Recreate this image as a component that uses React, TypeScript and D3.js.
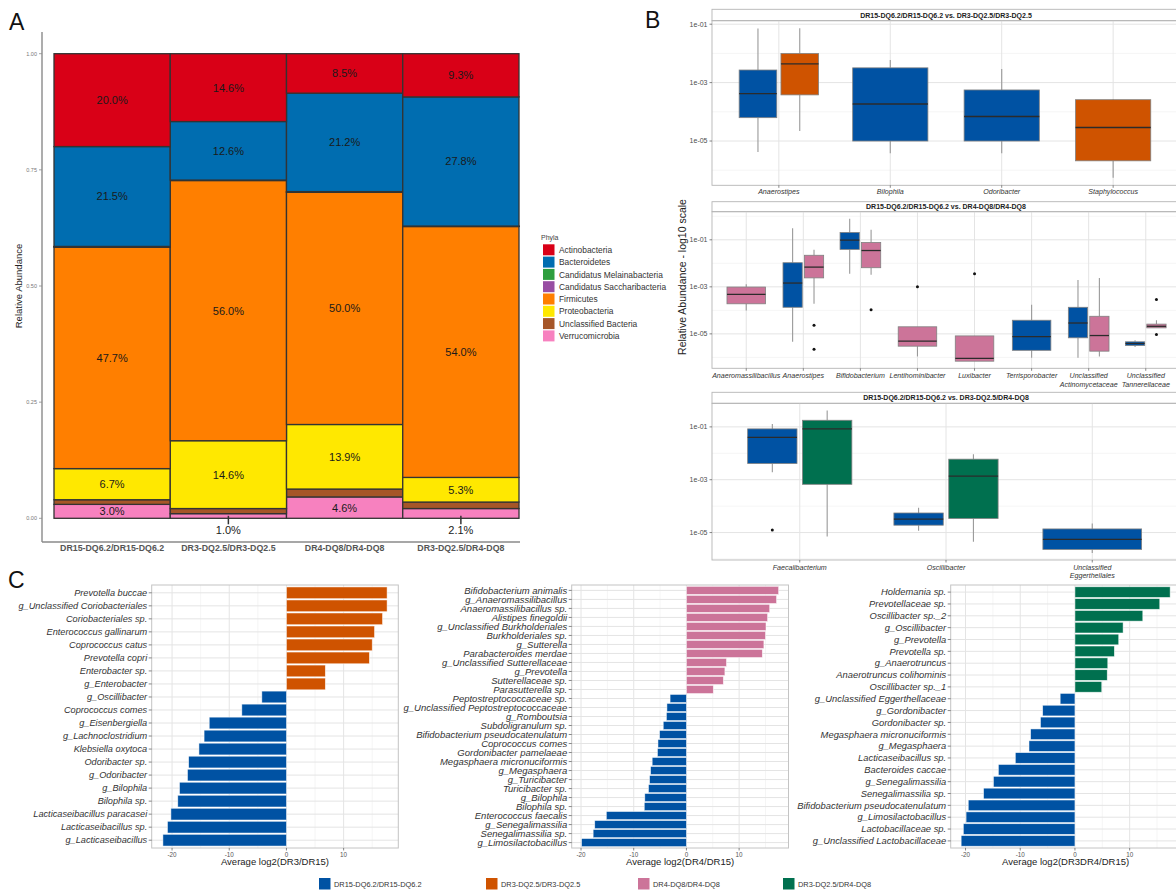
import React from 'react';
import * as d3 from 'd3';

const FONT = '"Liberation Sans", Arial, Helvetica, sans-serif';

// ---------- Panel A: phylum composition per genotype ----------
const genotypes = ['DR15-DQ6.2/DR15-DQ6.2', 'DR3-DQ2.5/DR3-DQ2.5', 'DR4-DQ8/DR4-DQ8', 'DR3-DQ2.5/DR4-DQ8'];
const phyla = [
  'Actinobacteria',
  'Bacteroidetes',
  'Candidatus Melainabacteria',
  'Candidatus Saccharibacteria',
  'Firmicutes',
  'Proteobacteria',
  'Unclassified Bacteria',
  'Verrucomicrobia',
];
const phylaColors = ['#D90017', '#006DB0', '#2E9E3E', '#984EA3', '#FF7F00', '#FFE800', '#A65628', '#F781BF'];
// percentages, one value per genotype
const actinobacteria = [20.0, 14.6, 8.5, 9.3];
const bacteroidetes = [21.5, 12.6, 21.2, 27.8];
const melainabacteria = [0.1, 0.05, 0.1, 0.05];
const saccharibacteria = [0.05, 0.05, 0.05, 0.05];
const firmicutes = [47.7, 56.0, 50.0, 54.0];
const proteobacteria = [6.7, 14.6, 13.9, 5.3];
const unclassifiedBacteria = [1.0, 1.1, 1.7, 1.4];
const verrucomicrobia = [3.0, 1.0, 4.6, 2.1];
const phylaValues = [
  actinobacteria, bacteroidetes, melainabacteria, saccharibacteria,
  firmicutes, proteobacteria, unclassifiedBacteria, verrucomicrobia,
];
const labelledPhyla = ['Actinobacteria', 'Bacteroidetes', 'Firmicutes', 'Proteobacteria', 'Verrucomicrobia'];

// ---------- Panel B: genus-level relative abundance boxplots ----------
const groupColors = ['#0052A3', '#CF5300', '#CC7499', '#00704F'];
const groupLabels = genotypes;

const dr3Genera = ['Anaerostipes', 'Bilophila', 'Odoribacter', 'Staphylococcus'];
const dr3Boxes = [
  { genus: 'Anaerostipes', group: 0, lo: 4.2e-6, q1: 6.3e-5, med: 4.2e-4, q3: 2.7e-3, hi: 7.1e-2, out: [] as number[] },
  { genus: 'Anaerostipes', group: 1, lo: 2.2e-5, q1: 3.8e-4, med: 4.4e-3, q3: 9.9e-3, hi: 7.3e-2, out: [] as number[] },
  { genus: 'Bilophila', group: 0, lo: 3.8e-6, q1: 1.0e-5, med: 1.85e-4, q3: 3.2e-3, hi: 6.0e-3, out: [] as number[] },
  { genus: 'Odoribacter', group: 0, lo: 3.8e-6, q1: 1.0e-5, med: 6.9e-5, q3: 5.6e-4, hi: 2.9e-3, out: [] as number[] },
  { genus: 'Staphylococcus', group: 1, lo: 5.5e-7, q1: 2.1e-6, med: 2.9e-5, q3: 2.6e-4, hi: 2.7e-4, out: [] as number[] },
];

const dr4Genera = [
  'Anaeromassilibacillus', 'Anaerostipes', 'Bifidobacterium', 'Lentihominibacter',
  'Luxibacter', 'Terrisporobacter', 'Unclassified Actinomycetaceae', 'Unclassified Tannerellaceae',
];
const dr4Boxes = [
  { genus: 'Anaeromassilibacillus', group: 2, lo: 9.8e-5, q1: 1.9e-4, med: 4.8e-4, q3: 9.8e-4, hi: 1.3e-3, out: [] as number[] },
  { genus: 'Anaerostipes', group: 0, lo: 4.6e-6, q1: 1.35e-4, med: 1.45e-3, q3: 1.06e-2, hi: 0.31, out: [] as number[] },
  { genus: 'Anaerostipes', group: 2, lo: 1.9e-4, q1: 2.4e-3, med: 6.9e-3, q3: 2.2e-2, hi: 3.8e-2, out: [2.3e-5, 2.2e-6] },
  { genus: 'Bifidobacterium', group: 0, lo: 3.6e-3, q1: 3.9e-2, med: 9.7e-2, q3: 0.205, hi: 0.78, out: [] as number[] },
  { genus: 'Bifidobacterium', group: 2, lo: 3.3e-3, q1: 6.5e-3, med: 3.5e-2, q3: 7.7e-2, hi: 0.265, out: [1.05e-4] },
  { genus: 'Lentihominibacter', group: 2, lo: 1.1e-6, q1: 3.0e-6, med: 4.9e-6, q3: 2.0e-5, hi: 2.0e-5, out: [1.0e-3] },
  { genus: 'Luxibacter', group: 2, lo: 6.9e-7, q1: 6.9e-7, med: 9.0e-7, q3: 8.2e-6, hi: 8.2e-6, out: [3.6e-3] },
  { genus: 'Terrisporobacter', group: 0, lo: 9.6e-7, q1: 2.0e-6, med: 7.7e-6, q3: 3.8e-5, hi: 1.75e-4, out: [] as number[] },
  { genus: 'Unclassified Actinomycetaceae', group: 0, lo: 9.6e-7, q1: 6.8e-6, med: 2.9e-5, q3: 1.35e-4, hi: 1.95e-3, out: [] as number[] },
  { genus: 'Unclassified Actinomycetaceae', group: 2, lo: 1.1e-6, q1: 1.84e-6, med: 8.5e-6, q3: 5.6e-5, hi: 2.4e-3, out: [] as number[] },
  { genus: 'Unclassified Tannerellaceae', group: 0, lo: 2.8e-6, q1: 3.2e-6, med: 3.9e-6, q3: 4.6e-6, hi: 5.4e-6, out: [] as number[] },
  { genus: 'Unclassified Tannerellaceae', group: 2, lo: 1.8e-5, q1: 1.8e-5, med: 2.1e-5, q3: 2.6e-5, hi: 3.8e-5, out: [2.9e-4, 9.3e-6] },
];

const dr34Genera = ['Faecalibacterium', 'Oscillibacter', 'Unclassified Eggerthellales'];
const dr34Boxes = [
  { genus: 'Faecalibacterium', group: 0, lo: 1.9e-3, q1: 4.1e-3, med: 4.0e-2, q3: 8.4e-2, hi: 0.13, out: [1.26e-5] },
  { genus: 'Faecalibacterium', group: 3, lo: 7.1e-6, q1: 6.7e-4, med: 8.4e-2, q3: 0.178, hi: 0.42, out: [] as number[] },
  { genus: 'Oscillibacter', group: 0, lo: 1.16e-5, q1: 1.9e-5, med: 3.2e-5, q3: 5.5e-5, hi: 8.7e-5, out: [] as number[] },
  { genus: 'Oscillibacter', group: 3, lo: 4.5e-6, q1: 3.4e-5, med: 1.37e-3, q3: 6.0e-3, hi: 9.2e-3, out: [] as number[] },
  { genus: 'Unclassified Eggerthellales', group: 0, lo: 1.7e-6, q1: 2.3e-6, med: 5.5e-6, q3: 1.37e-5, hi: 2.2e-5, out: [] as number[] },
];

// ---------- Panel C: differential abundance (average log2 fold change) ----------
const dr3Taxa = [
  'Prevotella buccae', 'g_Unclassified Coriobacteriales', 'Coriobacteriales sp.', 'Enterococcus gallinarum',
  'Coprococcus catus', 'Prevotella copri', 'Enterobacter sp.', 'g_Enterobacter', 'g_Oscillibacter',
  'Coprococcus comes', 'g_Eisenbergiella', 'g_Lachnoclostridium', 'Klebsiella oxytoca', 'Odoribacter sp.',
  'g_Odoribacter', 'g_Bilophila', 'Bilophila sp.', 'Lacticaseibacillus paracasei', 'Lacticaseibacillus sp.',
  'g_Lacticaseibacillus',
];
const dr3Log2 = [17.6, 17.6, 16.8, 15.4, 15.0, 14.5, 6.8, 6.8, -4.3, -7.8, -13.5, -14.4, -15.3, -17.1, -17.3, -18.7, -19.0, -20.2, -20.8, -21.6];

const dr4Taxa = [
  'Bifidobacterium animalis', 'g_Anaeromassilibacillus', 'Anaeromassilibacillus sp.', 'Alistipes finegoldii',
  'g_Unclassified Burkholderiales', 'Burkholderiales sp.', 'g_Sutterella', 'Parabacteroides merdae',
  'g_Unclassified Sutterellaceae', 'g_Prevotella', 'Sutterellaceae sp.', 'Parasutterella sp.',
  'Peptostreptococcaceae sp.', 'g_Unclassified Peptostreptococcaceae', 'g_Romboutsia', 'Subdoligranulum sp.',
  'Bifidobacterium pseudocatenulatum', 'Coprococcus comes', 'Gordonibacter pamelaeae', 'Megasphaera micronuciformis',
  'g_Megasphaera', 'g_Turicibacter', 'Turicibacter sp.', 'g_Bilophila', 'Bilophila sp.', 'Enterococcus faecalis',
  'g_Senegalimassilia', 'Senegalimassilia sp.', 'g_Limosilactobacillus',
];
const dr4Log2 = [17.5, 17.1, 15.8, 15.4, 15.1, 15.0, 14.7, 14.4, 7.6, 7.3, 7.0, 5.1, -3.1, -3.7, -3.8, -4.4, -5.1, -5.4, -5.5, -6.5, -6.8, -7.0, -7.2, -7.9, -8.0, -15.2, -17.4, -17.7, -19.9];

const dr34Taxa = [
  'Holdemania sp.', 'Prevotellaceae sp.', 'Oscillibacter sp._2', 'g_Oscillibacter', 'g_Prevotella', 'Prevotella sp.',
  'g_Anaerotruncus', 'Anaerotruncus colihominis', 'Oscillibacter sp._1', 'g_Unclassified Eggerthellaceae',
  'g_Gordonibacter', 'Gordonibacter sp.', 'Megasphaera micronuciformis', 'g_Megasphaera', 'Lacticaseibacillus sp.',
  'Bacteroides caccae', 'g_Senegalimassilia', 'Senegalimassilia sp.', 'Bifidobacterium pseudocatenulatum',
  'g_Limosilactobacillus', 'Lactobacillaceae sp.', 'g_Unclassified Lactobacillaceae',
];
const dr34Log2 = [17.4, 15.5, 12.4, 8.8, 8.0, 7.2, 6.0, 5.9, 4.9, -2.7, -5.9, -6.3, -8.1, -8.4, -10.9, -14.0, -14.9, -16.7, -19.5, -19.9, -20.4, -20.8];

// ======================================================================

function PanelA() {
  const x = d3.scaleBand<string>().domain(genotypes).range([54, 519]).padding(0);
  const y = d3.scaleLinear().domain([0, 1]).range([518.3, 53.7]);

  const totals = genotypes.map((_, i) => d3.sum(phylaValues, (v) => v[i]));
  const table = genotypes.map((g, i) => {
    const row: Record<string, any> = { genotype: g };
    phyla.forEach((p, j) => (row[p] = phylaValues[j][i] / totals[i]));
    return row;
  });
  const stackKeys = [...phyla].reverse();
  const series = d3.stack<any>().keys(stackKeys)(table);
  const color = d3.scaleOrdinal<string, string>().domain(phyla).range(phylaColors);

  const axisX = 42;
  const axisY = 542;
  return (
    <g>
      <text x={9} y={30} fontSize={23} fill="#111">A</text>
      {/* stacked segments */}
      {series.map((s) => (
        <g key={s.key}>
          {s.map((d, i) => (
            <rect
              key={i}
              x={x(genotypes[i])}
              width={x.bandwidth()}
              y={y(d[1])}
              height={Math.max(0, y(d[0]) - y(d[1]))}
              fill={color(s.key)}
              stroke="#333"
              strokeWidth={1.3}
            />
          ))}
        </g>
      ))}
      {/* value labels */}
      {series
        .filter((s) => labelledPhyla.includes(s.key))
        .map((s) =>
          s.map((d, i) => {
            const raw = phylaValues[phyla.indexOf(s.key)][i];
            const cx = (x(genotypes[i]) as number) + x.bandwidth() / 2;
            const label = raw.toFixed(1) + '%';
            if (raw >= 2.5) {
              return (
                <text key={s.key + i} x={cx} y={(y(d[0]) + y(d[1])) / 2 + 3.9} fontSize={11} textAnchor="middle" fill="#1a1a1a">
                  {label}
                </text>
              );
            }
            return (
              <g key={s.key + i}>
                <line x1={cx} x2={cx} y1={y(0) - 2.5} y2={y(0) + 6} stroke="#333" strokeWidth={1.5} />
                <text x={cx} y={y(0) + 15.8} fontSize={11} textAnchor="middle" fill="#1a1a1a">
                  {label}
                </text>
              </g>
            );
          })
        )}
      {/* axes */}
      <line x1={axisX} x2={axisX} y1={32} y2={axisY} stroke="#8a8a8a" strokeWidth={1.4} />
      <line x1={axisX} x2={520} y1={axisY} y2={axisY} stroke="#8a8a8a" strokeWidth={1.4} />
      {[0, 0.25, 0.5, 0.75, 1].map((t) => (
        <g key={t}>
          <line x1={axisX - 3} x2={axisX} y1={y(t)} y2={y(t)} stroke="#8a8a8a" strokeWidth={0.8} />
          <text x={axisX - 5} y={y(t) + 2} fontSize={5.5} textAnchor="end" fill="#777">
            {t.toFixed(2)}
          </text>
        </g>
      ))}
      {genotypes.map((g) => (
        <text key={g} x={(x(g) as number) + x.bandwidth() / 2} y={551} fontSize={8.8} fontWeight="bold" textAnchor="middle" fill="#555">
          {g}
        </text>
      ))}
      <text transform="translate(22,286) rotate(-90)" fontSize={9.5} textAnchor="middle" fill="#222">
        Relative Abundance
      </text>
      {/* legend */}
      <text x={541} y={239.5} fontSize={7} fill="#444">Phyla</text>
      {phyla.map((p, i) => (
        <g key={p}>
          <rect x={543} y={244.3 + i * 12.3} width={11.5} height={11} fill={color(p)} />
          <text x={559} y={252.9 + i * 12.3} fontSize={8.4} fill="#333">
            {p}
          </text>
        </g>
      ))}
    </g>
  );
}

type Box = { genus: string; group: number; lo: number; q1: number; med: number; q3: number; hi: number; out: number[] };

function logLabel(k: number) {
  return `1e${k < 0 ? '-' : '+'}${String(Math.abs(k)).padStart(2, '0')}`;
}

function BoxPanel(props: { stripTop: number; top: number; bottom: number; title: string; genera: string[]; boxes: Box[]; labelY: number }) {
  const { stripTop, top, bottom, title, genera, boxes, labelY } = props;
  const L = 712;
  const R = 1180;
  const x = d3.scalePoint<string>().domain(genera).range([L, R]).padding(0.6);
  const step = x.step();

  const vals = boxes.flatMap((b) => [b.lo, b.hi, ...b.out]);
  const l0 = Math.log10(d3.min(vals) as number);
  const l1 = Math.log10(d3.max(vals) as number);
  const pad = (l1 - l0) * 0.05;
  const y = d3.scaleLog().domain([10 ** (l0 - pad), 10 ** (l1 + pad)]).range([bottom, top]);

  const kLo = Math.ceil(l0 - pad);
  const kHi = Math.floor(l1 + pad);
  const ks = d3.range(kLo, kHi + 1);
  const major = ks.filter((k) => Math.abs(k) % 2 === 1);
  const minor = ks.filter((k) => Math.abs(k) % 2 === 0);

  const dodgeW = 0.75 * step;

  return (
    <g>
      {/* strip */}
      <rect x={L} y={stripTop} width={R - L} height={top - stripTop} fill="#fff" stroke="#b5b5b5" strokeWidth={0.9} />
      <text x={(L + R) / 2} y={(stripTop + top) / 2 + 2.5} fontSize={7} fontWeight="bold" textAnchor="middle" fill="#222">
        {title}
      </text>
      {/* grid */}
      {minor.map((k) => (
        <line key={'m' + k} x1={L} x2={R} y1={y(10 ** k)} y2={y(10 ** k)} stroke="#f1f1f1" strokeWidth={0.7} />
      ))}
      {major.map((k) => (
        <line key={'M' + k} x1={L} x2={R} y1={y(10 ** k)} y2={y(10 ** k)} stroke="#e4e4e4" strokeWidth={1} />
      ))}
      {genera.map((g) => (
        <line key={g} x1={x(g)} x2={x(g)} y1={top} y2={bottom} stroke="#e4e4e4" strokeWidth={1} />
      ))}
      {/* boxes */}
      {genera.map((g) => {
        const here = boxes.filter((b) => b.genus === g).sort((a, b) => a.group - b.group);
        const slot = dodgeW / here.length;
        const bw = slot * 0.9;
        return here.map((b, i) => {
          const cx = (x(g) as number) - dodgeW / 2 + slot * (i + 0.5);
          return (
            <g key={g + b.group}>
              <line x1={cx} x2={cx} y1={y(b.hi)} y2={y(b.q3)} stroke="#999" strokeWidth={1.1} />
              <line x1={cx} x2={cx} y1={y(b.q1)} y2={y(b.lo)} stroke="#999" strokeWidth={1.1} />
              <rect
                x={cx - bw / 2}
                width={bw}
                y={y(b.q3)}
                height={Math.max(1.5, y(b.q1) - y(b.q3))}
                fill={groupColors[b.group]}
                stroke="#808080"
                strokeWidth={0.8}
              />
              <line x1={cx - bw / 2} x2={cx + bw / 2} y1={y(b.med)} y2={y(b.med)} stroke="#2b2b2b" strokeWidth={1.3} />
              {b.out.map((o, j) => (
                <circle key={j} cx={cx} cy={y(o)} r={1.5} fill="#111" />
              ))}
            </g>
          );
        });
      })}
      <rect x={L} y={top} width={R - L} height={bottom - top} fill="none" stroke="#b5b5b5" strokeWidth={0.9} />
      {/* y axis */}
      {major.map((k) => (
        <g key={'t' + k}>
          <line x1={L - 2.5} x2={L} y1={y(10 ** k)} y2={y(10 ** k)} stroke="#555" strokeWidth={0.7} />
          <text x={L - 4.5} y={y(10 ** k) + 2.4} fontSize={7} textAnchor="end" fill="#4d4d4d">
            {logLabel(k)}
          </text>
        </g>
      ))}
      {/* x axis */}
      {genera.map((g) => {
        const lines = g.startsWith('Unclassified ') ? ['Unclassified', g.slice(13)] : [g];
        return (
          <g key={'x' + g}>
            <line x1={x(g)} x2={x(g)} y1={bottom} y2={bottom + 2.5} stroke="#555" strokeWidth={0.7} />
            {lines.map((ln, i) => (
              <text key={i} x={x(g)} y={labelY + i * 8.6} fontSize={7.1} fontStyle="italic" textAnchor="middle" fill="#333">
                {ln}
              </text>
            ))}
          </g>
        );
      })}
    </g>
  );
}

function PanelB() {
  return (
    <g>
      <text x={645} y={28} fontSize={23} fill="#111">B</text>
      <BoxPanel
        stripTop={9.3}
        top={20.7}
        bottom={185.3}
        title={`${groupLabels[0]} vs. ${groupLabels[1]}`}
        genera={dr3Genera}
        boxes={dr3Boxes}
        labelY={194.3}
      />
      <BoxPanel
        stripTop={201.7}
        top={211.7}
        bottom={368.3}
        title={`${groupLabels[0]} vs. ${groupLabels[2]}`}
        genera={dr4Genera}
        boxes={dr4Boxes}
        labelY={378.2}
      />
      <BoxPanel
        stripTop={392.3}
        top={403.3}
        bottom={560}
        title={`${groupLabels[0]} vs. ${groupLabels[3]}`}
        genera={dr34Genera}
        boxes={dr34Boxes}
        labelY={569.5}
      />
      <text transform="translate(686,277) rotate(-90)" fontSize={10.5} textAnchor="middle" fill="#222">
        Relative Abundance - log10 scale
      </text>
    </g>
  );
}

function BarPanel(props: { L: number; R: number; taxa: string[]; values: number[]; posGroup: number; title: string; fontSize: number }) {
  const { L, R, taxa, values, posGroup, title, fontSize } = props;
  const T = 585;
  const B = 848;
  const [mn, mx] = d3.extent([...values, 0]) as [number, number];
  const pad = (mx - mn) * 0.05;
  const x = d3.scaleLinear().domain([mn - pad, mx + pad]).range([L, R]);
  const y = d3.scalePoint<string>().domain(taxa).range([T, B]).padding(0.6);
  const bh = y.step() * 0.9;
  const [d0, d1] = x.domain();
  const major = d3.range(Math.ceil(d0 / 10) * 10, d1 + 1e-9, 10);
  const minor = d3.range(Math.ceil((d0 - 5) / 10) * 10 + 5, d1, 10).filter((v) => v > d0);

  return (
    <g>
      {minor.map((v) => (
        <line key={'m' + v} x1={x(v)} x2={x(v)} y1={T} y2={B} stroke="#f0f0f0" strokeWidth={0.7} />
      ))}
      {major.map((v) => (
        <line key={'M' + v} x1={x(v)} x2={x(v)} y1={T} y2={B} stroke="#e4e4e4" strokeWidth={1} />
      ))}
      {taxa.map((t) => (
        <line key={'h' + t} x1={L} x2={R} y1={y(t)} y2={y(t)} stroke="#e4e4e4" strokeWidth={1} />
      ))}
      {taxa.map((t, i) => {
        const v = values[i];
        return (
          <rect
            key={'b' + t}
            x={x(Math.min(0, v))}
            width={Math.abs(x(v) - x(0))}
            y={(y(t) as number) - bh / 2}
            height={bh}
            fill={v >= 0 ? groupColors[posGroup] : groupColors[0]}
            stroke="#ffffff"
            strokeOpacity={0.7}
            strokeWidth={0.7}
          />
        );
      })}
      <rect x={L} y={T} width={R - L} height={B - T} fill="none" stroke="#c4c4c4" strokeWidth={1} />
      {taxa.map((t) => (
        <g key={'l' + t}>
          <line x1={L - 3} x2={L} y1={y(t)} y2={y(t)} stroke="#555" strokeWidth={0.7} />
          <text x={L - 4.5} y={(y(t) as number) + fontSize * 0.35} fontSize={fontSize} fontStyle="italic" textAnchor="end" fill="#333">
            {t}
          </text>
        </g>
      ))}
      {major.map((v) => (
        <g key={'t' + v}>
          <line x1={x(v)} x2={x(v)} y1={B} y2={B + 2.5} stroke="#555" strokeWidth={0.7} />
          <text x={x(v)} y={B + 8.5} fontSize={6.3} textAnchor="middle" fill="#555">
            {v}
          </text>
        </g>
      ))}
      <text x={(L + R) / 2} y={865} fontSize={9.5} textAnchor="middle" fill="#222">
        {title}
      </text>
    </g>
  );
}

function PanelC() {
  return (
    <g>
      <text x={8} y={588} fontSize={23} fill="#111">C</text>
      <BarPanel L={151.7} R={398.3} taxa={dr3Taxa} values={dr3Log2} posGroup={1} title="Average log2(DR3/DR15)" fontSize={9.2} />
      <BarPanel L={571.7} R={788.5} taxa={dr4Taxa} values={dr4Log2} posGroup={2} title="Average log2(DR4/DR15)" fontSize={9.5} />
      <BarPanel L={950.7} R={1180.6} taxa={dr34Taxa} values={dr34Log2} posGroup={3} title="Average log2(DR3DR4/DR15)" fontSize={9.4} />
    </g>
  );
}

function BottomLegend() {
  const xs = [319, 486, 638, 783];
  return (
    <g>
      {groupLabels.map((g, i) => (
        <g key={g}>
          <rect x={xs[i]} y={878} width={11.5} height={11.5} fill={groupColors[i]} />
          <text x={xs[i] + 15} y={887} fontSize={7.4} fill="#333">
            {g}
          </text>
        </g>
      ))}
    </g>
  );
}

export default function App() {
  return (
    <svg
      width={1176}
      height={895}
      viewBox="0 0 1176 895"
      style={{ position: 'absolute', left: 0, top: 0, display: 'block', background: '#fff' }}
      fontFamily={FONT}
    >
      <rect width={1176} height={895} fill="#fff" />
      <PanelA />
      <PanelB />
      <PanelC />
      <BottomLegend />
    </svg>
  );
}
